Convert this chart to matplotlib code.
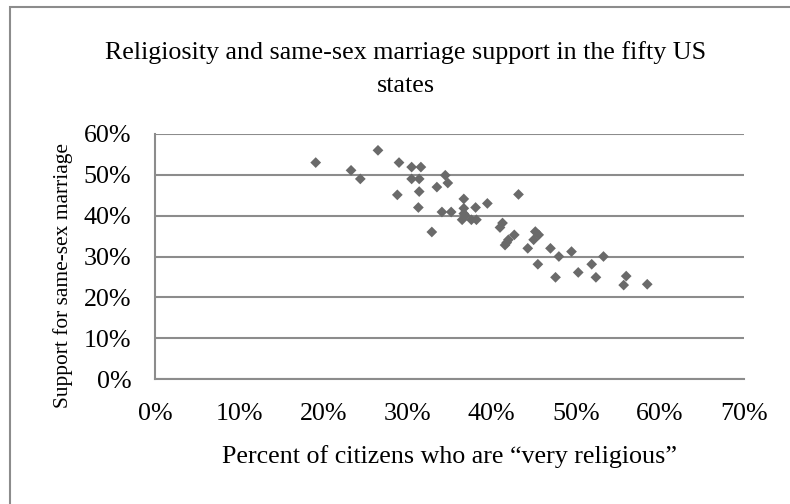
import matplotlib
matplotlib.use('Agg')
import matplotlib.pyplot as plt
from matplotlib.patches import Rectangle
from matplotlib.ticker import FuncFormatter

# percent of citizens "very religious" (x) vs support for same-sex marriage (y)
religious = [19.1, 23.3, 24.4, 26.5, 29.0, 28.8, 30.5, 31.6, 30.5, 31.4,
             31.4, 31.3, 32.9, 33.5, 34.5, 34.8, 34.1, 35.2, 36.7, 36.7,
             36.5, 37.6, 38.1, 38.2, 39.5, 43.2, 41.3, 41.0, 42.7, 42.0,
             41.6, 45.2, 45.6, 45.0, 44.3, 47.0, 48.0, 49.5, 45.5, 47.6,
             50.3, 51.9, 53.3, 52.4, 56.0, 55.7, 58.5, 36.7, 41.8, 36.9]
support = [53.0, 51.1, 49.0, 56.0, 53.0, 45.1, 51.9, 51.9, 49.0, 49.0,
           45.9, 42.0, 36.0, 47.0, 49.9, 48.0, 40.9, 40.9, 44.1, 41.8,
           39.0, 39.0, 42.0, 39.0, 43.0, 45.2, 38.2, 37.1, 35.3, 34.1,
           32.8, 36.1, 35.3, 34.1, 32.0, 32.0, 30.0, 31.2, 28.1, 24.9,
           26.1, 28.1, 30.0, 24.9, 25.2, 23.0, 23.2, 40.5, 33.4, 40.0]

x_ticks = [0, 10, 20, 30, 40, 50, 60, 70]
y_ticks = [0, 10, 20, 30, 40, 50, 60]

plt.rcParams['font.family'] = ['Liberation Serif', 'DejaVu Serif']
W, H = 790, 504
fig = plt.figure(figsize=(W / 100, H / 100), dpi=100)

# outer chart frame (cut off at right/bottom)
fig.patches.append(Rectangle((10 / W, -0.05), 1.1, 1 - 7 / H + 0.05,
                             transform=fig.transFigure, fill=False,
                             edgecolor='#8c8c8c', lw=1.5))

ax = fig.add_axes([155 / W, 1 - 379 / H, (744 - 155) / W, (379 - 134) / H])
ax.scatter(religious, support, marker='D', s=30, color='#6a6a6a',
           edgecolors='none', zorder=3)

ax.set_xlim(0, 70)
ax.set_ylim(0, 60)
ax.set_xticks(x_ticks)
ax.set_yticks(y_ticks)
pct = FuncFormatter(lambda v, p: '%d%%' % round(v))
ax.xaxis.set_major_formatter(pct)
ax.yaxis.set_major_formatter(pct)
ax.tick_params(length=0, labelsize=18.7, colors='black')
ax.tick_params(axis='x', pad=17)
ax.tick_params(axis='y', pad=17)
ax.grid(axis='y', color='#8c8c8c', lw=1.5)
ax.set_axisbelow(True)
for s in ['top', 'right']:
    ax.spines[s].set_visible(False)
for s in ['left', 'bottom']:
    ax.spines[s].set_color('#8c8c8c')
    ax.spines[s].set_linewidth(1.5)

fig.text(405.5 / W, 1 - 59 / H,
         'Religiosity and same-sex marriage support in the fifty US',
         ha='center', va='baseline', fontsize=18.7)
fig.text(405.5 / W, 1 - 92 / H, 'states', ha='center', va='baseline',
         fontsize=18.7)
fig.text(449.5 / W, 1 - 457 / H,
         'Percent of citizens who are \u201cvery religious\u201d',
         ha='center', va='center', fontsize=18.7)
fig.text(63 / W, 1 - 275 / H, 'Support for same-sex marriage',
         rotation=90, ha='center', va='center', fontsize=15.4)

fig.savefig('out.png', dpi=100)
